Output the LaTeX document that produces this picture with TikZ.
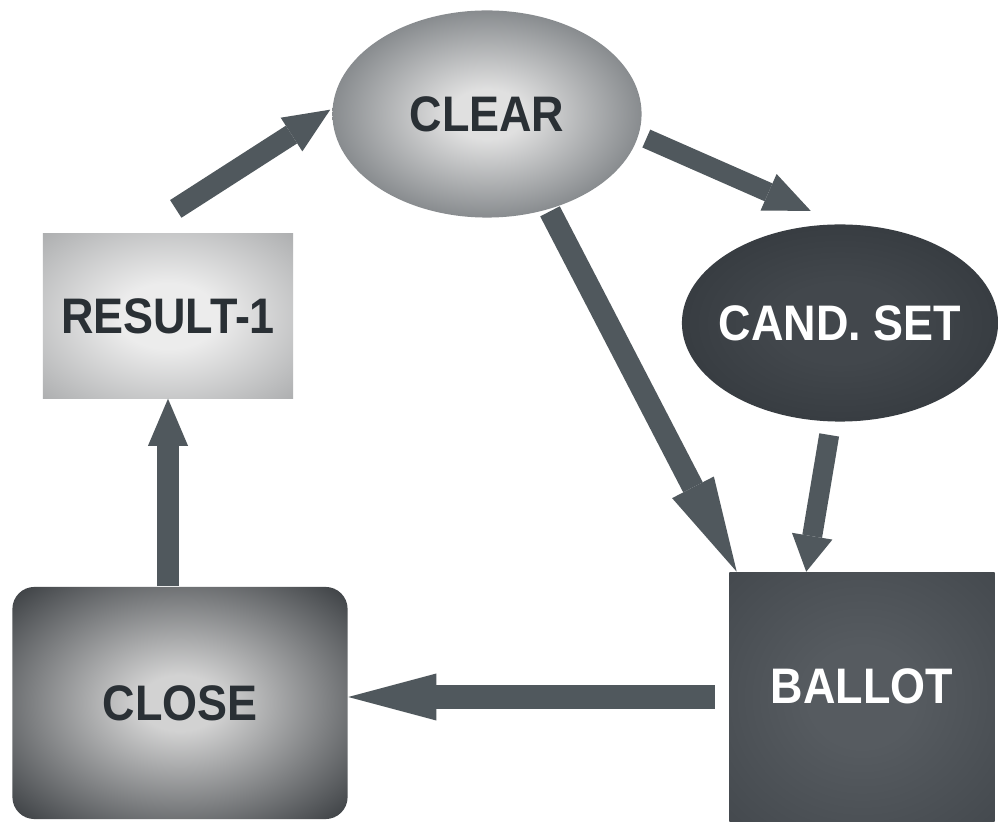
\documentclass[tikz,border=0pt]{standalone}
\usepackage{fontspec}
\setmainfont{Liberation Sans}
\newfontfamily\labelfont{Liberation Sans}[FakeStretch=0.9]
\usetikzlibrary{arrows.meta,shapes.geometric}

\definecolor{arrowgray}{HTML}{50585D}
\definecolor{darktext}{HTML}{2A3035}
\definecolor{clearin}{HTML}{E0E0E0}
\definecolor{clearout}{HTML}{4C5257}
\definecolor{candin}{HTML}{42474C}
\definecolor{candout}{HTML}{2A2F34}
\definecolor{resultin}{HTML}{ECECEC}
\definecolor{resultout}{HTML}{8A8C8E}
\definecolor{closein}{HTML}{D2D2D2}
\definecolor{closeout}{HTML}{2C3034}
\definecolor{ballotin}{HTML}{565B60}
\definecolor{ballotout}{HTML}{3A3F44}

\pgfdeclareradialshading{clearshade}{\pgfpoint{0bp}{0bp}}{color(0bp)=(clearin); color(6bp)=(clearin); color(38bp)=(clearout); color(75bp)=(clearout)}
\pgfdeclareradialshading{candshade}{\pgfpoint{0bp}{0bp}}{color(0bp)=(candin); color(10bp)=(candin); color(45bp)=(candout); color(75bp)=(candout)}
\pgfdeclareradialshading{resultshade}{\pgfpoint{0bp}{0bp}}{color(0bp)=(resultin); color(10bp)=(resultin); color(50bp)=(resultout); color(75bp)=(resultout)}
\pgfdeclareradialshading{closeshade}{\pgfpoint{0bp}{0bp}}{color(0bp)=(closein); color(6bp)=(closein); color(38bp)=(closeout); color(75bp)=(closeout)}
\pgfdeclareradialshading{ballotshade}{\pgfpoint{0bp}{0bp}}{color(0bp)=(ballotin); color(10bp)=(ballotin); color(50bp)=(ballotout); color(75bp)=(ballotout)}

\begin{document}
\begin{tikzpicture}[x=0.01cm,y=-0.01cm,
        box/.style={inner sep=0pt,font=\labelfont\fontsize{14.2}{16}\selectfont\bfseries},
        flow/.style={line width=0.21cm,draw=arrowgray,-{Triangle[length=0.46cm,width=0.40cm,line width=0pt]}}]
        \fill[white] (0,0) rectangle (1000,822);
        \node[box,ellipse,minimum width=3.09cm,minimum height=2.07cm,shade,shading=clearshade,text=darktext] (clear) at (487,114) {CLEAR};
        \node[box,ellipse,minimum width=3.16cm,minimum height=1.97cm,shade,shading=candshade,text=white] (cand) at (840,323) {\makebox[0pt]{CAND. SET}};
        \node[box,rectangle,minimum width=2.5cm,minimum height=1.64cm,shade,shading=resultshade,text=darktext] (result) at (168,316) {RESULT-1};
        \node[box,rectangle,rounded corners=0.22cm,minimum width=3.35cm,minimum height=2.32cm,shade,shading=closeshade,text=darktext] (close) at (180,703) {CLOSE};
        \node[box,rectangle,minimum width=2.65cm,minimum height=2.49cm,shade,shading=ballotshade,text=white] (ballot) at (862,697) {\raisebox{0.22cm}{BALLOT}};
        \draw[flow,shorten <=0.45cm,shorten >=0.02cm] (result.110) -- (clear.178);
        \draw[flow,line width=0.195cm,shorten <=0.08cm,shorten >=0.32cm] (clear.-8) -- (cand.north);
        \draw[flow,line width=0.22cm,-{Triangle[length=0.95cm,width=0.47cm,line width=0pt]},shorten <=0.02cm] (clear.-57) -- (ballot.135);
        \draw[flow,line width=0.20cm,-{Triangle[length=0.36cm,width=0.41cm,line width=0pt]},shorten <=0.13cm] (cand.-95) -- (ballot.114);
        \draw[flow,-{Triangle[length=0.47cm,width=0.40cm,line width=0pt]}] (result.south |- close.north) -- (result.south);
        \draw[flow,line width=0.23cm,-{Triangle[length=0.88cm,width=0.47cm,line width=0pt]},shorten <=0.14cm] (ballot.west) -- (ballot.west -| close.east);
\end{tikzpicture}
\end{document}
